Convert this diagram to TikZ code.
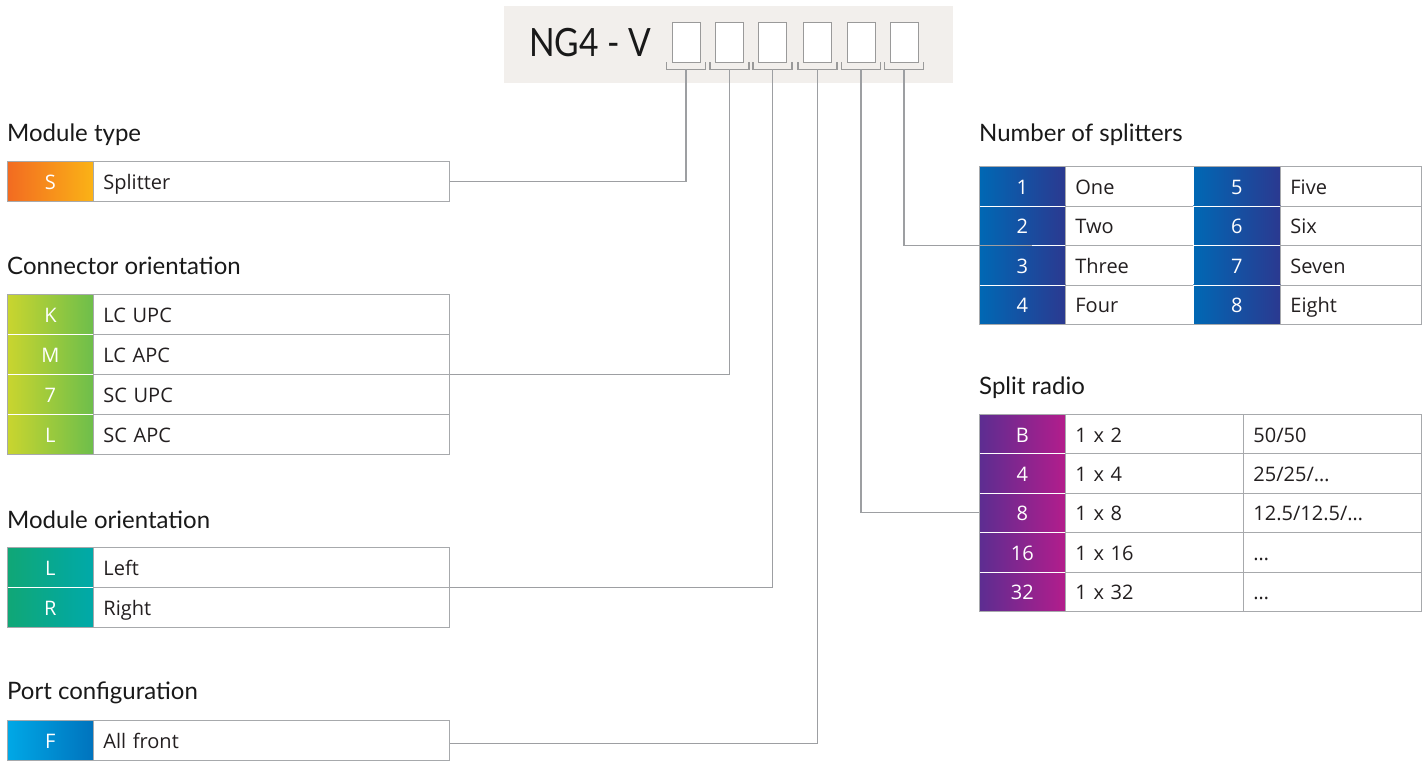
\documentclass[tikz,border=0pt]{standalone}
\usepackage{fontspec}
\setmainfont{Open Sans}
\newfontfamily\headfont{Lato}
\usetikzlibrary{calc}
\definecolor{bordergray}{HTML}{A7A9AC}
\definecolor{conngray}{HTML}{9D9FA2}
\definecolor{headbg}{HTML}{F2EFEC}
\definecolor{slotgray}{HTML}{9A9A9A}
\definecolor{txtblack}{HTML}{231F20}
\definecolor{orA}{HTML}{F26B21}\definecolor{orB}{HTML}{FBB316}
\definecolor{grA}{HTML}{C9D52F}\definecolor{grB}{HTML}{6DBE4B}
\definecolor{tlA}{HTML}{10A776}\definecolor{tlB}{HTML}{00A9A9}
\definecolor{cyA}{HTML}{00A8E6}\definecolor{cyB}{HTML}{0073BD}
\definecolor{blA}{HTML}{0068B4}\definecolor{blB}{HTML}{2B3990}
\definecolor{puA}{HTML}{5C2D91}\definecolor{puB}{HTML}{B31D8C}
\newcommand{\tabfont}{\fontsize{20pt}{22pt}\selectfont}
\newcommand{\hdfont}{\headfont\fontsize{24pt}{27pt}\selectfont}
\tikzset{
  codecell/.style={anchor=north west, minimum height=40pt, minimum width=86pt, inner sep=0pt, text=white, font=\tabfont, text height=17pt, text depth=1pt, draw=white, line width=0.8pt},
  txtcell/.style={anchor=north west, minimum height=40pt, inner xsep=10pt, inner ysep=0pt, align=left, text height=17pt, text depth=1pt, draw=bordergray, line width=0.8pt, font=\tabfont, text=txtblack},
  heading/.style={anchor=base west, inner sep=0pt, font=\hdfont, text=black!90},
  outline/.style={draw=bordergray, line width=0.9pt},
  slotbox/.style={draw=slotgray, fill=white, line width=0.9pt, minimum width=28pt, minimum height=40pt, inner sep=0pt},
  brk/.style={draw=slotgray, line width=1.2pt},
  conn/.style={draw=conngray, line width=1.1pt},
}
\begin{document}
\begin{tikzpicture}[x=1pt,y=-1pt]
\useasboundingbox[fill=white] (0,0) rectangle (1428,761);
% header
\node[fill=headbg, minimum width=449pt, minimum height=77pt, inner sep=0pt, anchor=north west] (hdr) at (504,6) {};
\node[anchor=base west, inner sep=0pt, font=\headfont\fontsize{39pt}{44pt}\selectfont, text=black!90] (title) at (529,56) {\scalebox{0.86}[1]{NG4 - V}};
\foreach \x [count=\i] in {686,729.5,772.5,817.5,861,904}{
  \node[slotbox] (s\i) at (\x,42) {};
  \draw[brk] ([xshift=-5pt]s\i.south west) -- ++(0,7) -| ([xshift=5pt]s\i.south east);
  \coordinate (b\i) at ([yshift=-7pt]s\i.south);
}
% Module type
\node[heading] (hmt) at (7,141) {Module type};
\node[codecell, left color=orA, right color=orB] (mt1c) at (7,161) {S};
\node[txtcell, text width=336pt] (mt1) at (93,161) {Splitter};
\draw[outline] (mt1c.north west) rectangle (mt1.south east);
% Connector orientation
\node[heading] (hco) at (7,274) {Connector orientation};
\foreach \c/\t [count=\i] in {K/LC UPC, M/LC APC, 7/SC UPC, L/SC APC}{
  \node[codecell, left color=grA, right color=grB] (co\i c) at (7,{294+40*(\i-1)}) {\c};
  \node[txtcell, text width=336pt] (co\i) at (93,{294+40*(\i-1)}) {\t};
}
\draw[outline] (co1c.north west) rectangle (co4.south east);
% Module orientation
\node[heading] (hmo) at (7,528) {Module orientation};
\foreach \c/\t [count=\i] in {L/Left, R/Right}{
  \node[codecell, left color=tlA, right color=tlB] (mo\i c) at (7,{547+40*(\i-1)}) {\c};
  \node[txtcell, text width=336pt] (mo\i) at (93,{547+40*(\i-1)}) {\t};
}
\draw[outline] (mo1c.north west) rectangle (mo2.south east);
% Port configuration
\node[heading] (hpc) at (7,699) {Port configuration};
\node[codecell, left color=cyA, right color=cyB] (pc1c) at (7,720) {F};
\node[txtcell, text width=336pt] (pc1) at (93,720) {All front};
\draw[outline] (pc1c.north west) rectangle (pc1.south east);
% Number of splitters
\node[heading] (hns) at (979,141) {Number of splitters};
\foreach \a/\b/\c/\d [count=\i] in {1/One/5/Five, 2/Two/6/Six, 3/Three/7/Seven, 4/Four/8/Eight}{
  \node[codecell, minimum height=39.5pt, left color=blA, right color=blB] (ns\i c) at (979,{166+39.5*(\i-1)}) {\a};
  \node[txtcell, minimum height=39.5pt, text width=108pt] (ns\i) at (1065,{166+39.5*(\i-1)}) {\b};
  \node[codecell, minimum height=39.5pt, minimum width=87pt, left color=blA, right color=blB] (ns\i d) at (1193,{166+39.5*(\i-1)}) {\c};
  \node[txtcell, minimum height=39.5pt, text width=121pt] (ns\i e) at (1280,{166+39.5*(\i-1)}) {\d};
}
\draw[outline] (ns1c.north west) rectangle (ns4e.south east);
% Split radio
\node[heading] (hsr) at (979,394) {Split radio};
\foreach \a/\b/\c [count=\i] in {B/1 x 2/{50/50}, 4/1 x 4/{25/25/\dots}, 8/1 x 8/{12.5/12.5/\dots}, 16/1 x 16/{\dots}, 32/1 x 32/{\dots}}{
  \node[codecell, minimum height=39.4pt, left color=puA, right color=puB] (sr\i c) at (979,{414+39.4*(\i-1)}) {\a};
  \node[txtcell, minimum height=39.4pt, text width=158pt] (sr\i) at (1065,{414+39.4*(\i-1)}) {\b};
  \node[txtcell, minimum height=39.4pt, text width=158pt] (sr\i d) at (1243,{414+39.4*(\i-1)}) {\c};
}
\draw[outline] (sr1c.north west) rectangle (sr5d.south east);
% connectors
\draw[conn] (b1) |- (mt1.east);
\draw[conn] (b2) |- (co2.south east);
\draw[conn] (b3) |- (mo1.south east);
\draw[conn] (b4) |- ([yshift=-3pt]pc1.east);
\draw[conn] (b5) |- (sr3c.west);
\draw[conn] (b6) |- ([xshift=53pt]ns2c.south west);
\end{tikzpicture}
\end{document}
